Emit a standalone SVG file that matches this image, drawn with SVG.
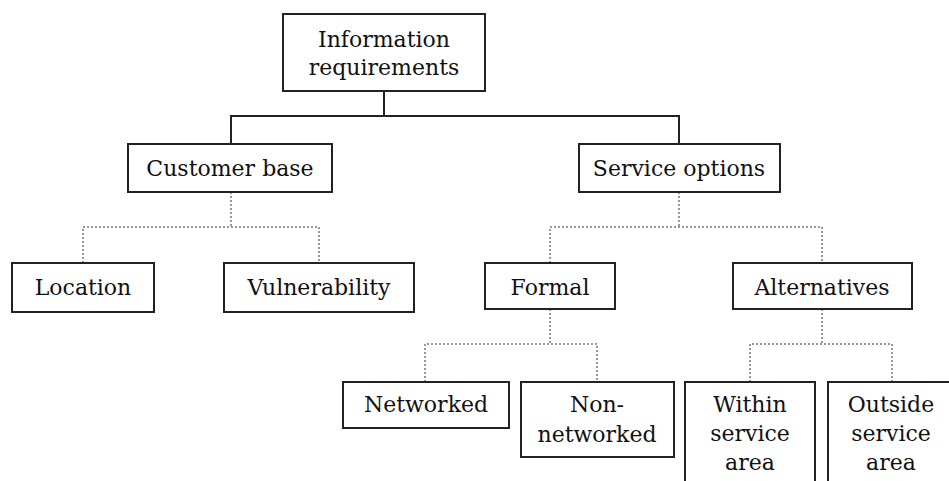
<svg xmlns="http://www.w3.org/2000/svg" width="949" height="481" viewBox="0 0 949 481">
<style>
.box{fill:#fff;stroke:#222;stroke-width:2}
.t{font-family:"DejaVu Serif","Liberation Serif",serif;font-size:22px;fill:#111;text-anchor:middle}
.solid{fill:none;stroke:#222;stroke-width:2}
.dot{fill:none;stroke:#777;stroke-width:1.5;stroke-dasharray:2 2}
</style>
<rect width="949" height="481" fill="#fff"/>
<g id="connectors">
<polyline class="solid" points="384,91 384,116"/>
<polyline class="solid" points="231,144 231,116 679,116 679,144"/>
<polyline class="dot" points="231,192 231,227"/>
<polyline class="dot" points="83,263 83,227 319,227 319,263"/>
<polyline class="dot" points="679,192 679,227"/>
<polyline class="dot" points="550,263 550,227 822,227 822,263"/>
<polyline class="dot" points="550,309 550,344"/>
<polyline class="dot" points="425,382 425,344 597,344 597,382"/>
<polyline class="dot" points="822,309 822,344"/>
<polyline class="dot" points="750,382 750,344 892,344 892,382"/>
</g>
<g id="info">
<rect class="box" x="283" y="14" width="202" height="77"/>
<text class="t" x="384" y="47">Information</text>
<text class="t" x="384" y="75">requirements</text>
</g>
<g id="customer">
<rect class="box" x="128" y="144" width="204" height="48"/>
<text class="t" x="230" y="176">Customer base</text>
</g>
<g id="service">
<rect class="box" x="579" y="144" width="201" height="48"/>
<text class="t" x="679" y="176">Service options</text>
</g>
<g id="location">
<rect class="box" x="12" y="263" width="142" height="49"/>
<text class="t" x="83" y="295">Location</text>
</g>
<g id="vulnerability">
<rect class="box" x="224" y="263" width="190" height="49"/>
<text class="t" x="319" y="295">Vulnerability</text>
</g>
<g id="formal">
<rect class="box" x="485" y="263" width="130" height="46"/>
<text class="t" x="550" y="295">Formal</text>
</g>
<g id="alternatives">
<rect class="box" x="733" y="263" width="179" height="46"/>
<text class="t" x="822" y="295">Alternatives</text>
</g>
<g id="networked">
<rect class="box" x="343" y="382" width="166" height="46"/>
<text class="t" x="426" y="412">Networked</text>
</g>
<g id="nonnetworked">
<rect class="box" x="521" y="382" width="153" height="75"/>
<text class="t" x="597" y="412">Non-</text>
<text class="t" x="597" y="442">networked</text>
</g>
<g id="within">
<rect class="box" x="685" y="382" width="130" height="110"/>
<text class="t" x="750" y="412">Within</text>
<text class="t" x="750" y="441">service</text>
<text class="t" x="750" y="470">area</text>
</g>
<g id="outside">
<rect class="box" x="828" y="382" width="140" height="110"/>
<text class="t" x="891" y="412">Outside</text>
<text class="t" x="891" y="441">service</text>
<text class="t" x="891" y="470">area</text>
</g>
</svg>
